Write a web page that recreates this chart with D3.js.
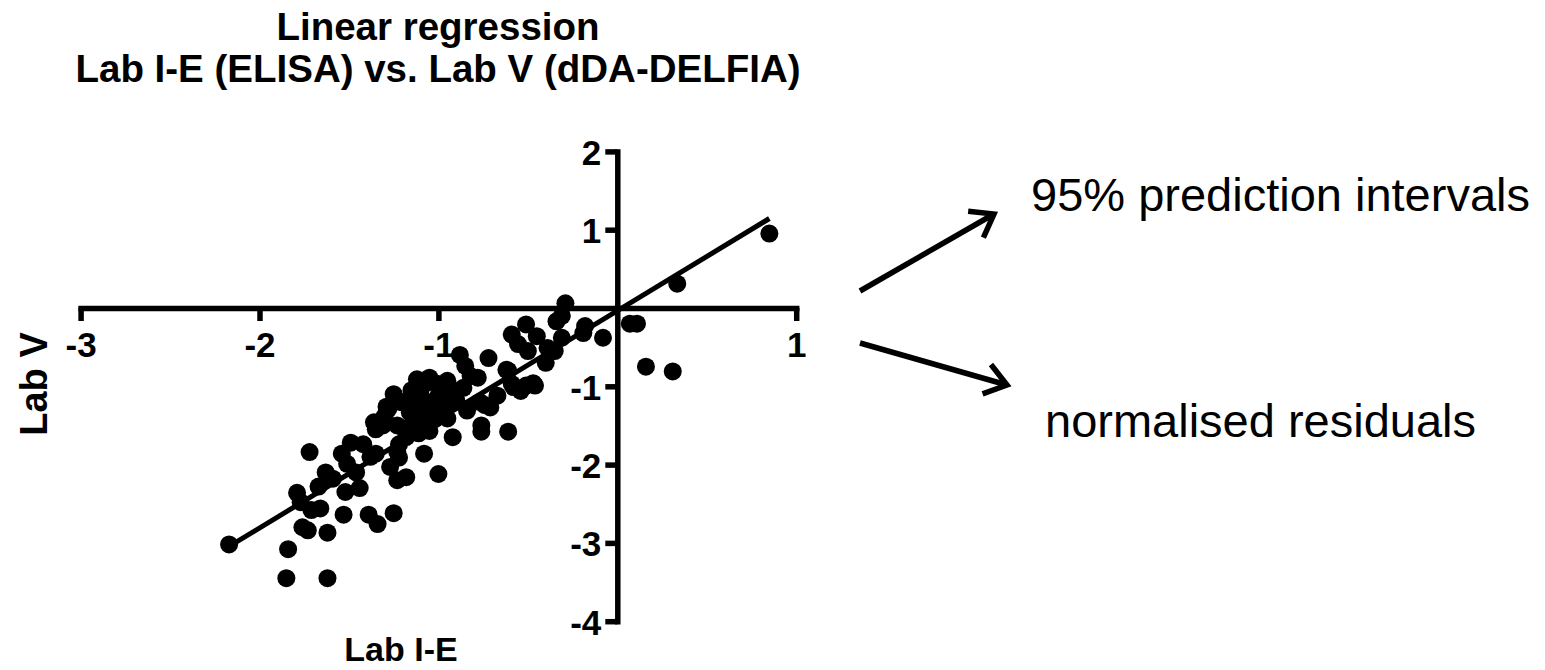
<!DOCTYPE html>
<html>
<head>
<meta charset="utf-8">
<script src="https://cdn.jsdelivr.net/npm/d3@7"></script>
<style>
  html, body { margin: 0; padding: 0; background: #fff; }
  svg { display: block; font-family: "Liberation Sans", Arial, sans-serif; }
</style>
</head>
<body>
<svg id="chart" width="1545" height="670"></svg>
<script>
// Paired log-ratio results: Lab I-E (ELISA) on x, Lab V (dDA-DELFIA) on y
const labIE = [
  0.85, 0.335, 0.07, 0.11, 0.16, 0.31,
  -0.08, -0.19, -0.18, -0.29, -0.31, -0.34, -0.31, -0.39, -0.35, -0.40,
  -0.45, -0.51, -0.59, -0.555, -0.50, -0.46, -0.51, -0.54, -0.59, -0.58,
  -0.61, -0.61, -0.67, -0.71, -0.72, -0.74, -0.76, -0.76, -0.78, -0.82,
  -0.85, -0.88, -0.86, -0.84, -0.92, -0.95, -0.95, -1.00, -1.00, -1.00,
  -1.05, -1.05, -1.06, -1.06, -1.08, -1.11, -1.12, -1.125, -1.12, -1.16,
  -1.18, -1.18, -1.19, -1.21, -1.22, -1.22, -1.23, -1.23, -1.27, -1.28,
  -1.31, -1.35, -1.36, -1.35, -1.38, -1.42, -1.49, -1.44, -1.46, -1.51,
  -1.52, -1.54, -1.59, -1.63, -1.67, -1.72, -1.79, -1.77, -1.71, -1.66,
  -1.76, -1.73, -1.62, -1.53, -1.39, -1.34, -1.25, -1.84, -1.85, -1.62,
  -2.17, -1.06, -1.23, -1.00, -0.95, -1.10, -0.92, -1.02, -1.05, -0.98,
  -0.93, -0.77, -1.29, -1.21, -0.62, -0.47,
  -1.15, -0.97, -1.25, -1.08, -0.90, -1.14, -1.30
];
const labV = [
  0.95, 0.31, -0.20, -0.20, -0.75, -0.81,
  -0.38, -0.32, -0.23, 0.06, -0.10, -0.17, -0.38, -0.51, -0.55, -0.70,
  -0.36, -0.21, -0.34, -0.46, -0.55, -0.99, -0.99, -1.06, -0.97, -1.01,
  -0.80, -1.58, -1.12, -1.27, -0.64, -1.24, -1.50, -1.58, -0.89, -0.87,
  -0.74, -0.60, -1.02, -1.31, -1.65, -0.93, -1.41, -0.97, -1.12, -2.12,
  -0.89, -1.57, -1.20, -1.54, -1.86, -1.60, -0.91, -1.16, -1.28, -1.33,
  -1.65, -2.16, -1.54, -1.20, -1.74, -1.91, -1.50, -2.20, -2.03, -1.29,
  -1.50, -1.55, -1.46, -1.86, -1.90, -1.74, -1.72, -2.30, -2.10, -1.99,
  -2.35, -1.86, -2.18, -2.10, -2.28, -1.84, -2.36, -2.48, -2.58, -2.56,
  -2.80, -2.84, -2.87, -2.64, -2.64, -2.76, -2.62, -3.08, -3.45, -3.45,
  -3.02, -0.95, -1.84, -1.30, -1.20, -1.05, -1.05, -1.42, -1.30, -1.25,
  -1.12, -1.20, -1.26, -1.20, -0.79, -0.96,
  -1.05, -1.35, -1.10, -1.40, -1.18, -1.45, -1.38
];

// Fitted line (slope, intercept) drawn across the range of the x data
const fitSlope = 1.387;
const fitIntercept = -0.036;

const xTicks = [-3, -2, -1, 1];
const yTicks = [-4, -3, -2, -1, 1, 2];

const titleLines = ["Linear regression", "Lab I-E (ELISA) vs. Lab V (dDA-DELFIA)"];
const xTitle = "Lab I-E";
const yTitle = "Lab V";
const noteUpper = "95% prediction intervals";
const noteLower = "normalised residuals";

const svg = d3.select("#chart");

const x = d3.scaleLinear().domain([-3, 1]).range([80.6, 796.2]);
const y = d3.scaleLinear().domain([-4, 2]).range([621.2, 151.4]);

const AXIS_W = 5.5;
const fmt = d => String(d);

// Axes cross at the origin
const gx = svg.append("g")
  .attr("transform", `translate(0,${y(0)})`)
  .call(d3.axisBottom(x).tickValues(xTicks).tickFormat(fmt).tickSize(13).tickSizeOuter(0));
const gy = svg.append("g")
  .attr("transform", `translate(${x(0)},0)`)
  .call(d3.axisLeft(y).tickValues(yTicks).tickFormat(fmt).tickSize(12).tickSizeOuter(0));

[gx, gy].forEach(g => {
  g.attr("font-family", "'Liberation Sans', Arial, sans-serif")
   .attr("font-size", 35)
   .attr("font-weight", "bold");
  g.select(".domain").attr("stroke", "#000").attr("stroke-width", AXIS_W).attr("stroke-linecap", "square");
  g.selectAll(".tick line").attr("stroke", "#000").attr("stroke-width", AXIS_W);
  g.selectAll(".tick text").attr("fill", "#000");
});
gx.selectAll(".tick text").attr("y", 49).attr("dy", 0);
gy.selectAll(".tick text").attr("x", -16).attr("dy", "0.37em");

// Regression line
const xr = d3.extent(labIE);
svg.append("line")
  .attr("x1", x(xr[0])).attr("y1", y(fitSlope * xr[0] + fitIntercept))
  .attr("x2", x(xr[1])).attr("y2", y(fitSlope * xr[1] + fitIntercept))
  .attr("stroke", "#000").attr("stroke-width", 5);

// Data points
svg.append("g").selectAll("circle")
  .data(labIE.map((v, i) => [v, labV[i]]))
  .join("circle")
  .attr("cx", d => x(d[0]))
  .attr("cy", d => y(d[1]))
  .attr("r", 9)
  .attr("fill", "#000");

// Titles
const title = svg.append("text")
  .attr("text-anchor", "middle")
  .attr("font-size", 38.5).attr("font-weight", "bold");
title.append("tspan").attr("x", 438).attr("y", 40).text(titleLines[0]);
title.append("tspan").attr("x", 438).attr("y", 82).text(titleLines[1]);

svg.append("text")
  .attr("x", 401).attr("y", 661)
  .attr("text-anchor", "middle")
  .attr("font-size", 34).attr("font-weight", "bold")
  .text(xTitle);

svg.append("text")
  .attr("transform", "translate(46.5,384) rotate(-90)")
  .attr("text-anchor", "middle")
  .attr("font-size", 38).attr("font-weight", "bold")
  .text(yTitle);

// Annotation arrows with open heads
function arrow(x1, y1, x2, y2) {
  const a = Math.atan2(y1 - y2, x1 - x2);
  const len = 26, spread = 36 * Math.PI / 180;
  const g = svg.append("g").attr("stroke", "#000").attr("stroke-width", 5.5)
    .attr("fill", "none").attr("stroke-linecap", "butt").attr("stroke-linejoin", "miter");
  g.append("line").attr("x1", x1).attr("y1", y1).attr("x2", x2).attr("y2", y2);
  g.append("path").attr("d",
    `M${x2 + len * Math.cos(a + spread)},${y2 + len * Math.sin(a + spread)}` +
    `L${x2},${y2}` +
    `L${x2 + len * Math.cos(a - spread)},${y2 + len * Math.sin(a - spread)}`);
}
arrow(860, 291, 994, 214);
arrow(860, 343, 1007, 385);

svg.append("text").attr("x", 1031).attr("y", 211)
  .attr("font-size", 47).text(noteUpper);
svg.append("text").attr("x", 1045).attr("y", 437)
  .attr("font-size", 47).text(noteLower);
</script>
</body>
</html>
